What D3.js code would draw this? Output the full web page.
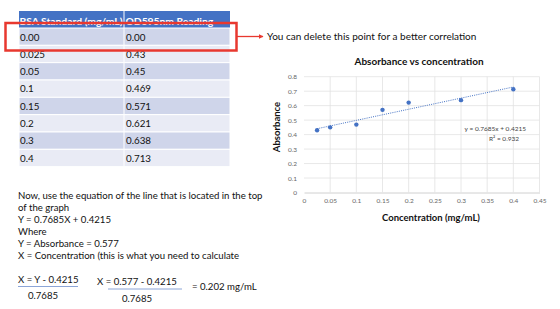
<!DOCTYPE html>
<html>
<head>
<meta charset="utf-8">
<style>
  body { margin: 0; background: #fff; }
  svg { display: block; font-family: Lato, "Open Sans", sans-serif; }
</style>
</head>
<body>
<div class="start"></div>
<script src="https://cdn.jsdelivr.net/npm/d3@7/dist/d3.min.js"></script>
<script>
// table data
var headers = ['BSA Standard (mg/mL)', 'OD595nm Reading'];
var conc = ['0.00', '0.025', '0.05', '0.1', '0.15', '0.2', '0.3', '0.4'];
var reading = ['0.00', '0.43', '0.45', '0.469', '0.571', '0.621', '0.638', '0.713'];

// chart data (the 0 point is left out)
var xs = [0.025, 0.05, 0.1, 0.15, 0.2, 0.3, 0.4];
var ys = [0.43, 0.45, 0.469, 0.571, 0.621, 0.638, 0.713];
var slope = 0.7685, intercept = 0.4215;
var xTicks = [0, 0.05, 0.1, 0.15, 0.2, 0.25, 0.3, 0.35, 0.4, 0.45];
var yTicks = [0, 0.1, 0.2, 0.3, 0.4, 0.5, 0.6, 0.7, 0.8];

var notes = [
  'Now, use the equation of the line that is located in the top',
  'of the graph',
  'Y = 0.7685X + 0.4215',
  'Where',
  'Y = Absorbance = 0.577',
  'X = Concentration (this is what you need to calculate'
];

var svg = d3.select('.start').append('svg')
  .attr('width', 560).attr('height', 309);

// ---- table ----
var tx0 = 19, tx1 = 124, tx2 = 230, headTop = 11, headH = 17, rowH = 17.33;
svg.append('rect').attr('x', tx0).attr('y', headTop).attr('width', tx2 - tx0).attr('height', headH)
  .attr('fill', '#4472c4');
svg.append('line').attr('x1', tx1).attr('x2', tx1).attr('y1', headTop).attr('y2', headTop + headH)
  .attr('stroke', '#fff');
svg.selectAll('.hd').data(headers).enter().append('text')
  .attr('x', function(d, i) { return (i ? tx1 + 1.5 : tx0 + 0.5); })
  .attr('y', headTop + 14)
  .attr('fill', '#fff').attr('font-weight', 'bold').attr('font-size', 10.3)
  .text(function(d) { return d; });

var rows = svg.selectAll('.row').data(conc).enter().append('g')
  .attr('transform', function(d, i) { return 'translate(0,' + (headTop + headH + i * rowH) + ')'; });
rows.append('rect').attr('x', tx0).attr('width', tx2 - tx0).attr('height', rowH)
  .attr('fill', function(d, i) { return i % 2 ? '#e9ebf5' : '#cfd5ea'; })
  .attr('stroke', '#fff').attr('stroke-width', 1);
rows.append('line').attr('x1', tx1).attr('x2', tx1).attr('y1', 0).attr('y2', rowH)
  .attr('stroke', '#fff');
rows.append('text').attr('x', tx0 + 1).attr('y', 12.5).attr('font-size', 9.8).attr('fill', '#111')
  .text(function(d) { return d; });
rows.append('text').attr('x', tx1 + 2).attr('y', 12.5).attr('font-size', 9.8).attr('fill', '#111')
  .text(function(d, i) { return reading[i]; });

// red highlight box + arrow
svg.append('rect').attr('x', 5.5).attr('y', 23).attr('width', 231).attr('height', 27.5)
  .attr('fill', 'none').attr('stroke', '#e8382f').attr('stroke-width', 2.5);
svg.append('defs').append('marker').attr('id', 'ah').attr('viewBox', '0 0 10 10')
  .attr('refX', 9).attr('refY', 5).attr('markerWidth', 5).attr('markerHeight', 5)
  .attr('orient', 'auto').attr('markerUnits', 'userSpaceOnUse')
  .append('path').attr('d', 'M0,0L10,5L0,10Z').attr('fill', '#e8382f');
svg.append('line').attr('x1', 237).attr('y1', 36.5).attr('x2', 263).attr('y2', 36.5)
  .attr('stroke', '#e8382f').attr('stroke-width', 1.3).attr('marker-end', 'url(#ah)');
svg.append('text').attr('x', 267).attr('y', 40).attr('font-size', 10).attr('fill', '#111')
  .text('You can delete this point for a better correlation');

// ---- chart ----
var x = d3.scaleLinear().domain([0, 0.45]).range([304, 539.5]);
var y = d3.scaleLinear().domain([0, 0.8]).range([192.5, 76.7]);

svg.append('text').attr('x', 419).attr('y', 65).attr('text-anchor', 'middle')
  .attr('font-size', 10).attr('font-weight', 'bold').attr('fill', '#111')
  .text('Absorbance vs concentration');

var gx = svg.append('g').attr('transform', 'translate(0,' + y(0) + ')')
  .call(d3.axisBottom(x).tickValues(xTicks).tickSize(0).tickPadding(6)
    .tickFormat(function(d) { return d3.format('')(+d.toFixed(2)); }));
gx.select('.domain').attr('stroke', '#d0d0d0');
gx.selectAll('text').attr('font-size', 6.5).attr('fill', '#666').attr('font-family', 'Lato, sans-serif');

var gy = svg.append('g').attr('transform', 'translate(' + x(0) + ',0)')
  .call(d3.axisLeft(y).tickValues(yTicks).tickSize(0).tickPadding(7)
    .tickFormat(function(d) { return d3.format('')(+d.toFixed(1)); }));
gy.select('.domain').remove();
gy.selectAll('text').attr('font-size', 6.5).attr('fill', '#666').attr('font-family', 'Lato, sans-serif');

svg.append('g').selectAll('line').data(yTicks.slice(1)).enter().append('line')
  .attr('x1', x(0)).attr('x2', x(0.45)).attr('y1', function(d) { return y(d); }).attr('y2', function(d) { return y(d); })
  .attr('stroke', '#e2e2e2').attr('stroke-width', 0.8);
svg.append('g').selectAll('line').data(xTicks.slice(1)).enter().append('line')
  .attr('y1', y(0)).attr('y2', y(0.8)).attr('x1', function(d) { return x(d); }).attr('x2', function(d) { return x(d); })
  .attr('stroke', '#e2e2e2').attr('stroke-width', 0.8);

var xExt = d3.extent(xs);
svg.append('line')
  .attr('x1', x(xExt[0])).attr('y1', y(slope * xExt[0] + intercept))
  .attr('x2', x(xExt[1])).attr('y2', y(slope * xExt[1] + intercept))
  .attr('stroke', '#4472c4').attr('stroke-width', 1).attr('stroke-dasharray', '1,1.2');

svg.append('g').selectAll('circle').data(xs).enter().append('circle')
  .attr('cx', function(d) { return x(d); })
  .attr('cy', function(d, i) { return y(ys[i]); })
  .attr('r', 2.2).attr('fill', '#4472c4');

svg.append('text').attr('x', 526).attr('y', 131).attr('text-anchor', 'end')
  .attr('font-size', 6.5).attr('fill', '#444').text('y = 0.7685x + 0.4215');
svg.append('text').attr('x', 519).attr('y', 141).attr('text-anchor', 'end')
  .attr('font-size', 6.5).attr('fill', '#444').text('R\u00b2 = 0.932');

svg.append('text').attr('transform', 'translate(280,127) rotate(-90)').attr('text-anchor', 'middle')
  .attr('font-size', 9.5).attr('font-weight', 'bold').attr('fill', '#111').text('Absorbance');
svg.append('text').attr('x', 431).attr('y', 221).attr('text-anchor', 'middle')
  .attr('font-size', 9.5).attr('font-weight', 'bold').attr('fill', '#111').text('Concentration (mg/mL)');

// ---- notes below ----
svg.selectAll('.note').data(notes).enter().append('text')
  .attr('x', 18).attr('y', function(d, i) { return 198.5 + i * 12.1; })
  .attr('font-size', 9.6).attr('fill', '#111')
  .text(function(d) { return d; });

var fracs = [
  { num: 'X = Y - 0.4215', den: '0.7685', x0: 18, ux0: 18, ux1: 78, dc: 43, dy: 0 },
  { num: 'X = 0.577 - 0.4215', den: '0.7685', x0: 97, ux0: 108, ux1: 182, dc: 137, dy: 2.5 }
];
fracs.forEach(function(f) {
  svg.append('text').attr('x', f.x0).attr('y', 282.5 + f.dy).attr('font-size', 9.6).attr('fill', '#111').text(f.num);
  svg.append('line').attr('x1', f.ux0).attr('x2', f.ux1).attr('y1', 286.5 + f.dy).attr('y2', 286.5 + f.dy)
    .attr('stroke', '#7f9bd3').attr('stroke-width', 0.9);
  svg.append('text').attr('x', f.dc).attr('y', 299 + f.dy).attr('text-anchor', 'middle')
    .attr('font-size', 9.6).attr('fill', '#111').text(f.den);
});
svg.append('text').attr('x', 192).attr('y', 289.5).attr('font-size', 9.6).attr('fill', '#111').text('= 0.202 mg/mL');
</script>
</body>
</html>
